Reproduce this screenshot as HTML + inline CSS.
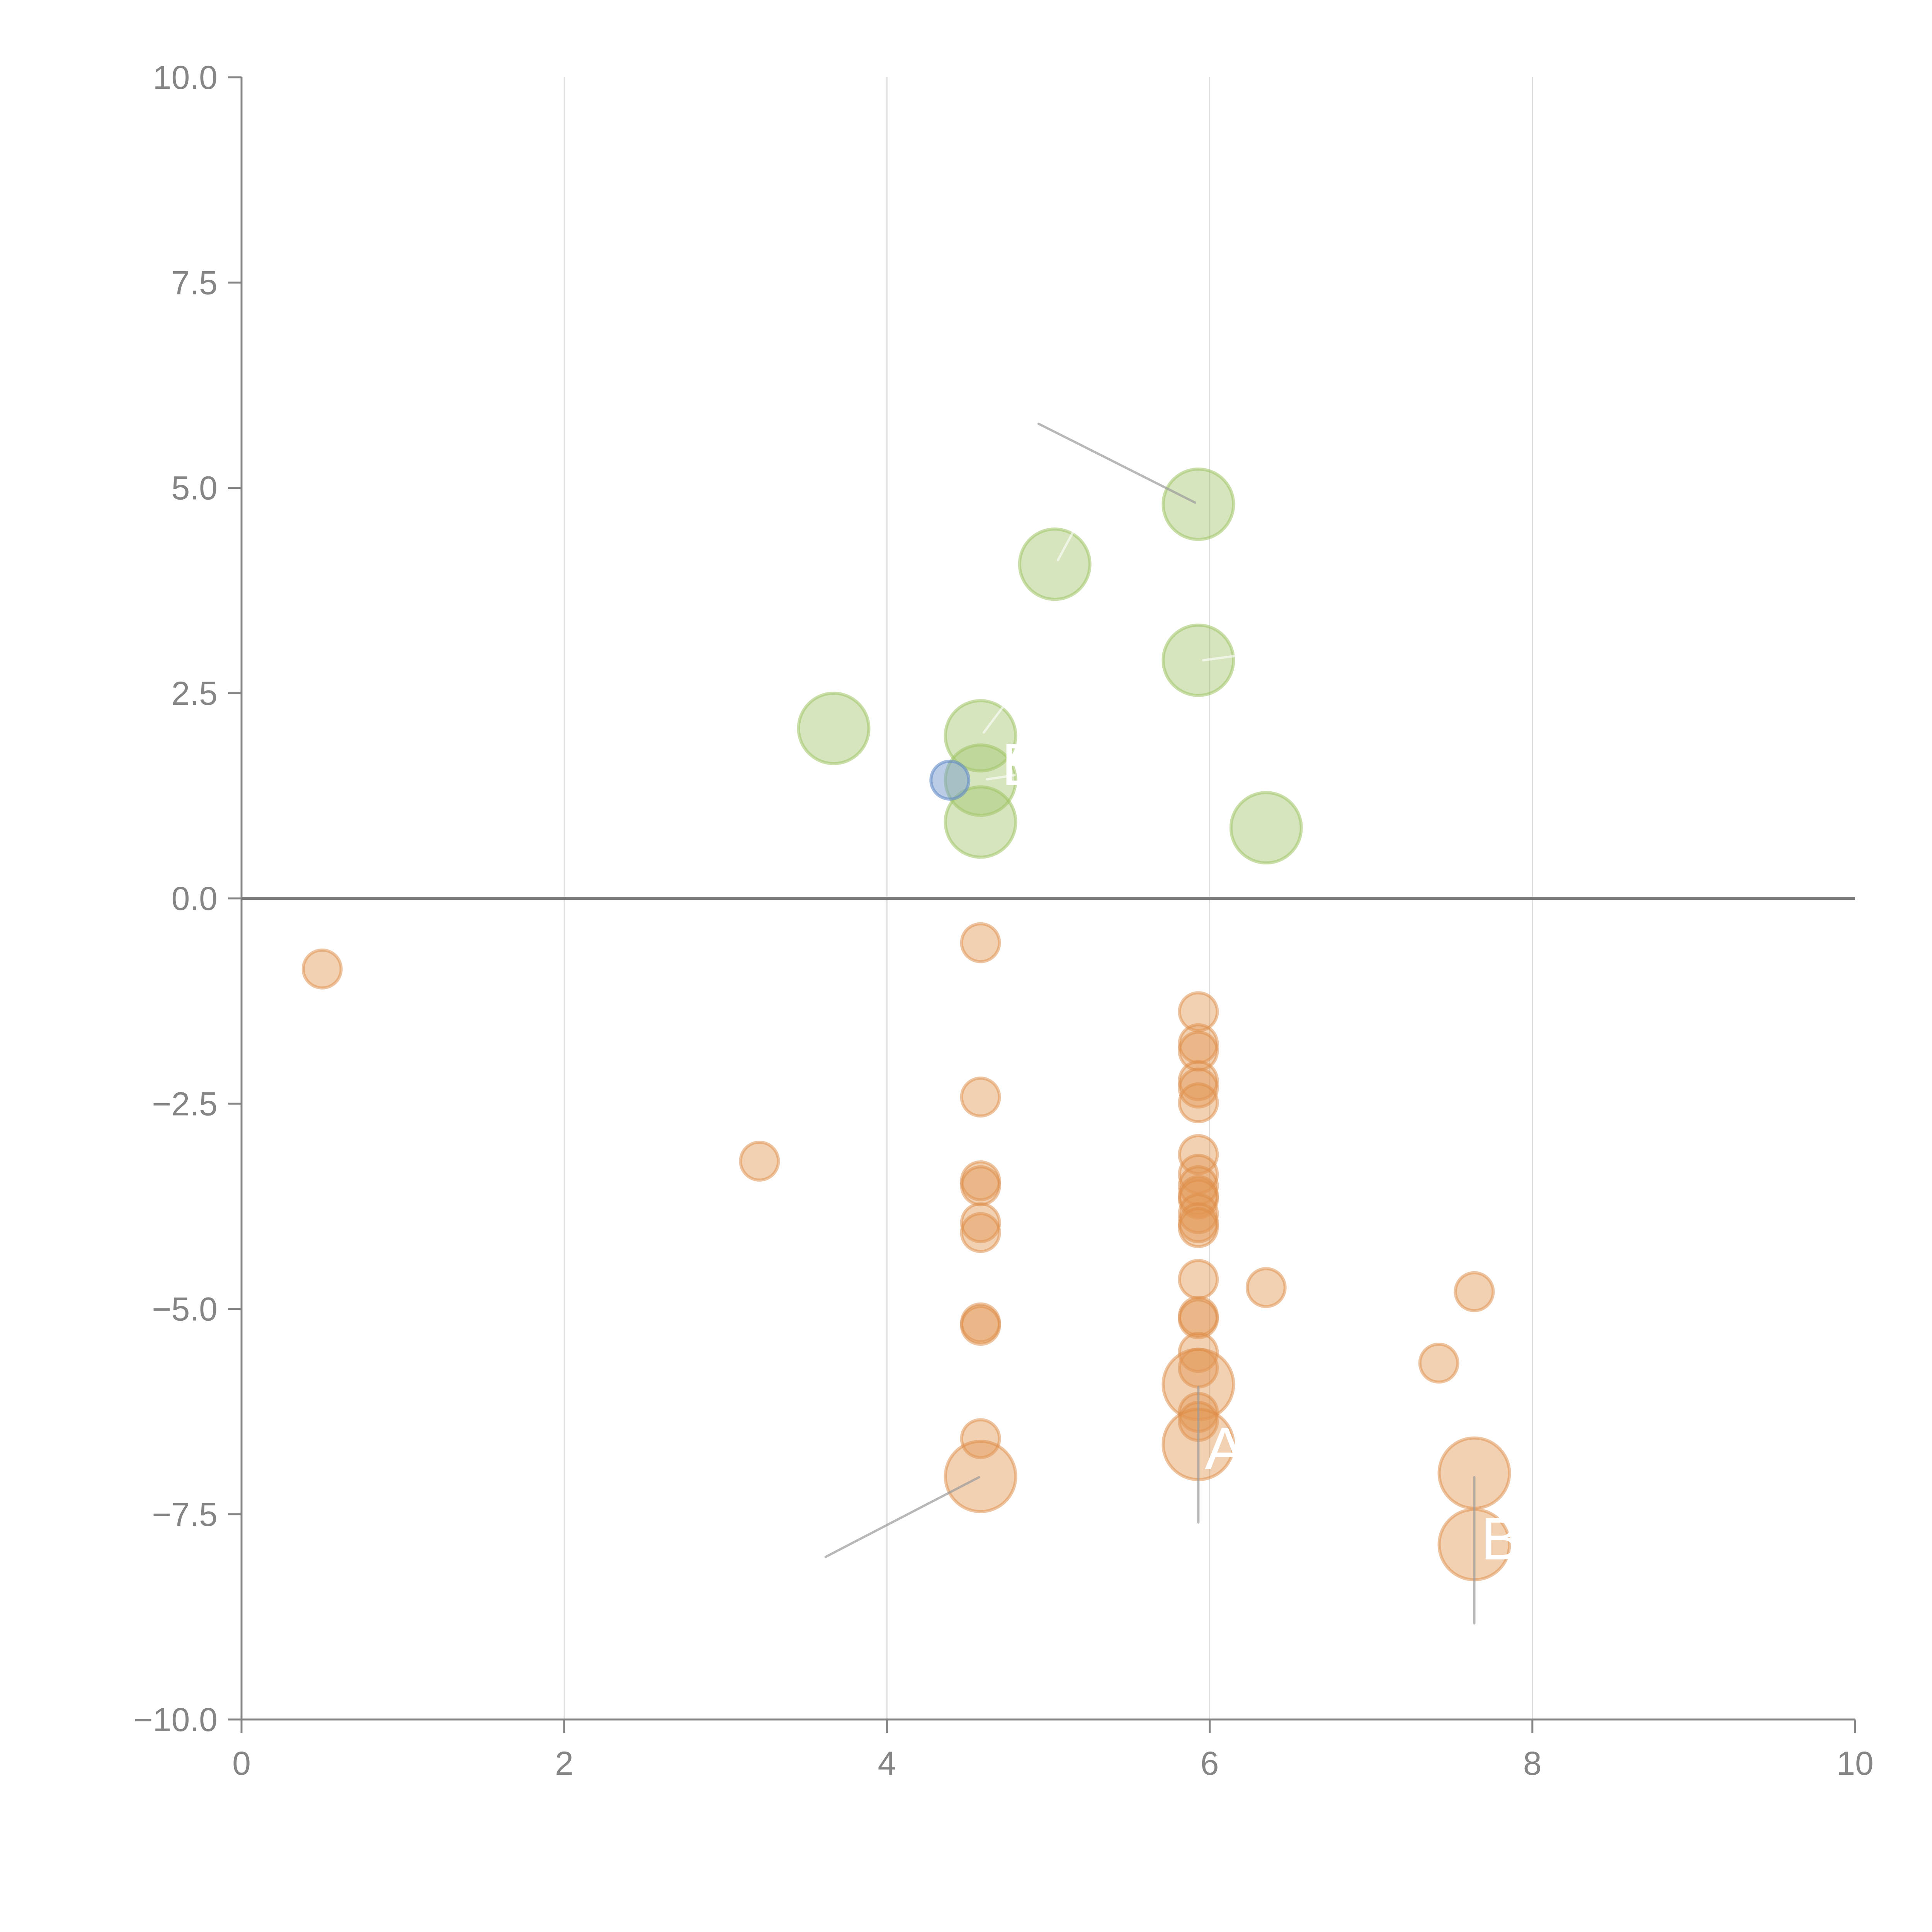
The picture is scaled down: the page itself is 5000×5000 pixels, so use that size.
<!DOCTYPE html>
<html><head><meta charset="utf-8"><style>
html,body{margin:0;padding:0;background:#fff;}
svg{display:block;font-family:"Liberation Sans",Arial,sans-serif;}
</style></head><body>
<svg id="chart" width="5000" height="5000" viewBox="0 0 5000 5000" xmlns="http://www.w3.org/2000/svg">
<g id="grid"></g>
<g id="axes"></g>
<g id="marks"></g>
<g id="ann"></g>
</svg>
<script>
const xTicks=[0,2,4,6,8,10];
const yTicks=[10,7.5,5,2.5,0,-2.5,-5,-7.5,-10];
const yTickLabels=["10.0","7.5","5.0","2.5","0.0","\u22122.5","\u22125.0","\u22127.5","\u221210.0"];
const greenX=[5.93,5.04,5.93,3.67,4.58,4.58,4.58,6.35];
const greenY=[4.80,4.07,2.90,2.07,1.98,1.44,0.93,0.86];
const blueX=[4.39];
const blueY=[1.44];
const orangeX=[0.50,3.21,4.58,4.58,4.58,4.58,4.58,4.58,4.58,4.58,4.58,4.58,
5.93,5.93,5.93,5.93,5.93,5.93,5.93,5.93,5.93,5.93,5.93,5.93,5.93,5.93,5.93,5.93,5.93,5.93,5.93,5.93,5.93,5.93,5.93,
6.35,7.64,7.42,7.64,7.64];
const orangeY=[-0.86,-3.20,-0.54,-2.42,-3.44,-3.50,-3.95,-4.07,-5.17,-5.20,-6.58,-7.04,
-1.38,-1.77,-1.86,-2.22,-2.31,-2.49,-3.12,-3.36,-3.50,-3.62,-3.66,-3.84,-3.95,-4.01,-4.64,-5.09,-5.12,-5.53,-5.72,-5.92,-6.26,-6.37,-6.65,
-4.74,-4.79,-5.66,-7.00,-7.87];
const orangeBig=[0,0,0,0,0,0,0,0,0,0,0,1, 0,0,0,0,0,0,0,0,0,0,0,0,0,0,0,0,0,0,0,1,0,0,1, 0,0,0,1,1];
const leaderX1=[4.94,4.57,5.93,7.64];
const leaderY1=[5.78,-7.05,-5.95,-7.05];
const leaderX2=[5.91,3.62,5.93,7.64];
const leaderY2=[4.82,-8.02,-7.60,-8.83];
const whiteX1=[5.06,4.60,4.62,5.96];
const whiteY1=[4.12,2.02,1.45,2.90];
const whiteX2=[5.15,4.73,4.79,6.15];
const whiteY2=[4.45,2.36,1.50,2.95];
const labelText=["A","B","B"];
const labelX=[5.97,7.68,4.71];
const labelY=[-6.95,-8.05,1.38];

const NS="http://www.w3.org/2000/svg";
const X0=625,X1=4801,Y0=4450,Y1=200;
const sx=v=>X0+(v-0)/(10-0)*(X1-X0);
const sy=v=>Y0-(v+10)/20*(Y0-Y1);
function mk(tag,attrs,parent){const e=document.createElementNS(NS,tag);for(const k in attrs)e.setAttribute(k,attrs[k]);parent.appendChild(e);return e;}
const grid=document.getElementById('grid'),axes=document.getElementById('axes'),marks=document.getElementById('marks'),ann=document.getElementById('ann');
const gray="#858585";
xTicks.forEach((t,i)=>{
  if(t>0 && t<10){const g=mk('line',{x1:sx(t),x2:sx(t),y1:Y1,y2:Y0,stroke:'#dcdcdc','stroke-width':3},grid);
  
  }
  const tk=mk('line',{x1:sx(t),x2:sx(t),y1:Y0,y2:Y0+35,stroke:gray,'stroke-width':5},axes);
  
  
  const tx=mk('text',{x:sx(t),y:Y0+143,'text-anchor':'middle','font-size':86,fill:gray},axes);
  tx.textContent=String(t);
  
  
});
yTicks.forEach((t,i)=>{
  const tk=mk('line',{x1:X0-35,x2:X0,y1:sy(t),y2:sy(t),stroke:gray,'stroke-width':5},axes);
  
  
  const tx=mk('text',{x:X0-62,y:sy(t)+30,'text-anchor':'end','font-size':86,fill:gray},axes);
  tx.textContent=yTickLabels[i];
  
  
});
let a=mk('line',{x1:X0,x2:X0,y1:Y1,y2:Y0,stroke:gray,'stroke-width':5},axes);


a=mk('line',{x1:X0,x2:X1,y1:Y0,y2:Y0,stroke:gray,'stroke-width':5},axes);


a=mk('line',{x1:X0,x2:X1,y1:sy(0),y2:sy(0),stroke:'#7a7a7a','stroke-width':8},axes);



greenX.forEach((v,i)=>{
  const c=mk('circle',{cx:sx(v),cy:sy(greenY[i]),r:91,fill:'rgb(165,198,110)','fill-opacity':0.45,stroke:'rgb(160,196,100)','stroke-opacity':0.55,'stroke-width':8},marks);
  
  
});
blueX.forEach((v,i)=>{
  const c=mk('circle',{cx:sx(v),cy:sy(blueY[i]),r:49,fill:'rgb(120,155,205)','fill-opacity':0.5,stroke:'rgb(100,140,200)','stroke-opacity':0.6,'stroke-width':8},marks);
  
  
});
orangeX.forEach((v,i)=>{
  const c=mk('circle',{cx:sx(v),cy:sy(orangeY[i]),r:orangeBig[i]?91:49,fill:'rgb(226,150,85)','fill-opacity':0.45,stroke:'rgb(222,140,70)','stroke-opacity':0.5,'stroke-width':8},marks);
  
  
});
leaderX1.forEach((v,i)=>{
  const l=mk('line',{x1:sx(v),y1:sy(leaderY1[i]),x2:sx(leaderX2[i]),y2:sy(leaderY2[i]),stroke:'#9a9a9a','stroke-opacity':0.7,'stroke-width':6,'stroke-linecap':'round'},ann);
  
  
});
whiteX1.forEach((v,i)=>{
  const l=mk('line',{x1:sx(v),y1:sy(whiteY1[i]),x2:sx(whiteX2[i]),y2:sy(whiteY2[i]),stroke:'#fff','stroke-opacity':0.6,'stroke-width':6,'stroke-linecap':'round'},ann);
  
  
});
labelText.forEach((s,i)=>{
  const t=mk('text',{x:sx(labelX[i]),y:sy(labelY[i]),'font-size':155,fill:'#fff'},ann);
  t.textContent=s;
  
  
});
</script>
</body></html>
